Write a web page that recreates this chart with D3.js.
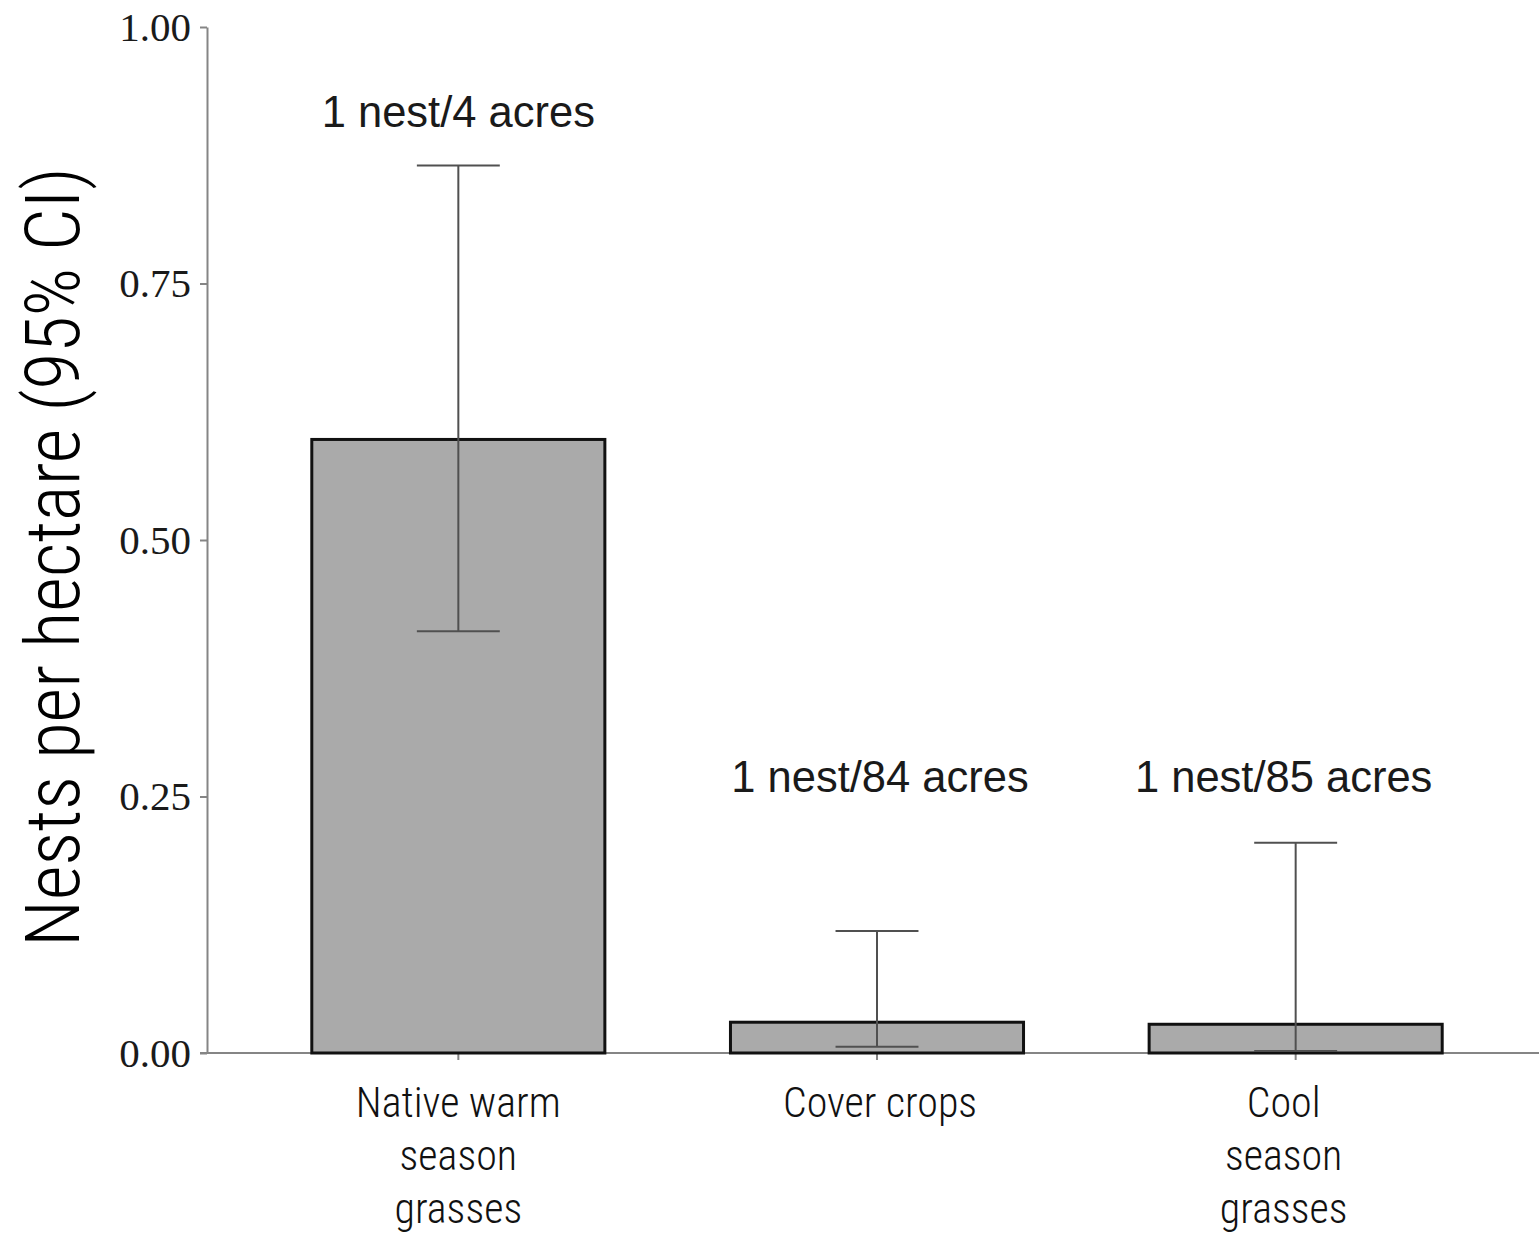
<!DOCTYPE html>
<html>
<head>
<meta charset="utf-8">
<script src="https://cdn.jsdelivr.net/npm/d3@7"></script>
<style>
  html, body { margin: 0; padding: 0; background: #fff; }
  svg { display: block; }
</style>
</head>
<body>
<svg id="chart" width="1539" height="1234"></svg>
<script>
// ---- data ----
const categories = ["Native warm season grasses", "Cover crops", "Cool season grasses"];
const categoryLines = [["Native warm", "season", "grasses"], ["Cover crops"], ["Cool", "season", "grasses"]];
const meanValues = [0.598, 0.030, 0.028];
const lowerCI = [0.411, 0.006, 0.002];
const upperCI = [0.865, 0.119, 0.205];
const annotations = ["1 nest/4 acres", "1 nest/84 acres", "1 nest/85 acres"];
const yTicks = [0, 0.25, 0.5, 0.75, 1.0];
const yTitle = "Nests per hectare (95% CI)";

// ---- layout ----
const svg = d3.select("#chart");
const W = 1539, H = 1234;
const y = d3.scaleLinear().domain([0, 1]).range([1053, 27]);
const x = d3.scaleBand().domain(categories).range([249, 1505]).paddingInner(0.3).paddingOuter(0.15);
const axisColor = "#858585";
const narrow = "'Liberation Sans Narrow', 'Arial Narrow', 'Roboto Condensed', Arial, sans-serif";
const labelDx = [0, 3, -12];

// y axis
const yAxis = svg.append("g")
  .attr("transform", "translate(207,0)")
  .call(d3.axisLeft(y).tickValues(yTicks).tickFormat(d3.format(".2f")).tickSize(7).tickSizeOuter(0).tickPadding(9));
yAxis.select(".domain").attr("stroke", axisColor).attr("stroke-width", 2);
yAxis.selectAll(".tick line").attr("stroke", axisColor).attr("stroke-width", 2);
yAxis.selectAll(".tick text")
  .attr("fill", "#1a1a1a")
  .style("font-family", "'Liberation Serif', 'Times New Roman', serif")
  .style("font-size", "41px");

// x axis
const xAxis = svg.append("g")
  .attr("transform", "translate(0,1053)")
  .call(d3.axisBottom(x).tickSize(7).tickSizeOuter(0).tickFormat(""));
xAxis.select(".domain").remove();
xAxis.selectAll(".tick line").attr("stroke", axisColor).attr("stroke-width", 2);
xAxis.append("line")
  .attr("x1", 200).attr("x2", W).attr("y1", 0).attr("y2", 0)
  .attr("stroke", axisColor).attr("stroke-width", 2);

// category labels
const catLabel = svg.append("g").selectAll("text")
  .data(categories)
  .join("text")
  .attr("text-anchor", "middle")
  .attr("fill", "#111")
  .style("font-family", narrow)
  .style("font-weight", 300)
  .style("font-size", "42px");
catLabel.each(function(d, i) {
  const t = d3.select(this);
  categoryLines[i].forEach((line, k) => {
    t.append("tspan")
      .attr("x", x(d) + x.bandwidth() / 2 + labelDx[i])
      .attr("y", 1117 + k * 53)
      .text(line);
  });
});

// bars
svg.append("g").selectAll("rect")
  .data(categories)
  .join("rect")
  .attr("x", d => x(d))
  .attr("width", x.bandwidth())
  .attr("y", (d, i) => y(meanValues[i]))
  .attr("height", (d, i) => y(0) - y(meanValues[i]))
  .attr("fill", "#aaaaaa")
  .attr("stroke", "#111")
  .attr("stroke-width", 3);

// error bars
const capW = x.bandwidth() * 0.283;
const eb = svg.append("g").attr("stroke", "#505050").attr("stroke-width", 2).attr("fill", "none");
categories.forEach((d, i) => {
  const cx = x(d) + x.bandwidth() / 2;
  eb.append("line").attr("x1", cx).attr("x2", cx).attr("y1", y(lowerCI[i])).attr("y2", y(upperCI[i]));
  eb.append("line").attr("x1", cx - capW / 2).attr("x2", cx + capW / 2).attr("y1", y(upperCI[i])).attr("y2", y(upperCI[i]));
  eb.append("line").attr("x1", cx - capW / 2).attr("x2", cx + capW / 2).attr("y1", y(lowerCI[i])).attr("y2", y(lowerCI[i]));
});

// annotations
const annotLevel = [0.9025, 0.2545, 0.2545];
svg.append("g").selectAll("text")
  .data(annotations)
  .join("text")
  .attr("x", (d, i) => x(categories[i]) + x.bandwidth() / 2 + labelDx[i])
  .attr("y", (d, i) => y(annotLevel[i]))
  .attr("text-anchor", "middle")
  .attr("fill", "#1a1a1a")
  .style("font-family", "'Liberation Sans', Arial, sans-serif")
  .style("font-size", "43.5px")
  .text(d => d);

// y title
svg.append("text")
  .attr("transform", `translate(79,${557}) rotate(-90)`)
  .attr("text-anchor", "middle")
  .attr("fill", "#000")
  .style("font-family", narrow)
  .style("font-weight", 300)
  .style("font-size", "75.5px")
  .text(yTitle);
</script>
</body>
</html>
